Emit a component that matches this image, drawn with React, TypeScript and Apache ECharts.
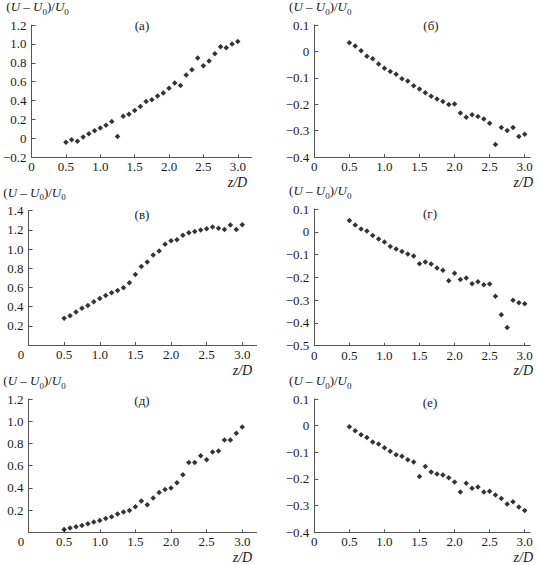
import React, { useEffect, useRef } from "react";
import * as echarts from "echarts";

// z/D sample positions (shared by all panels)
const ZD = [0.5, 0.583, 0.667, 0.75, 0.833, 0.917, 1.0, 1.083, 1.167, 1.25, 1.333, 1.417, 1.5, 1.583, 1.667, 1.75, 1.833, 1.917, 2.0, 2.083, 2.167, 2.25, 2.333, 2.417, 2.5, 2.583, 2.667, 2.75, 2.833, 2.917, 3.0];

// (U - U0)/U0 values per panel
const PANEL_A = [-0.04, -0.014, -0.03, 0.014, 0.05, 0.08, 0.11, 0.14, 0.18, 0.02, 0.235, 0.256, 0.295, 0.337, 0.39, 0.41, 0.45, 0.48, 0.53, 0.586, 0.56, 0.67, 0.726, 0.85, 0.77, 0.82, 0.895, 0.97, 0.96, 1.0, 1.025];
const PANEL_B = [0.033, 0.02, 0.002, -0.018, -0.028, -0.048, -0.064, -0.076, -0.087, -0.104, -0.112, -0.13, -0.142, -0.157, -0.17, -0.18, -0.19, -0.201, -0.199, -0.233, -0.249, -0.24, -0.247, -0.256, -0.272, -0.353, -0.288, -0.3, -0.288, -0.322, -0.314];
const PANEL_V = [0.28, 0.304, 0.343, 0.384, 0.412, 0.45, 0.485, 0.516, 0.544, 0.569, 0.597, 0.649, 0.736, 0.819, 0.864, 0.937, 0.979, 1.049, 1.087, 1.097, 1.143, 1.17, 1.184, 1.198, 1.212, 1.23, 1.216, 1.205, 1.25, 1.205, 1.254];
const PANEL_G = [0.05, 0.03, 0.012, 0.003, -0.016, -0.032, -0.045, -0.065, -0.076, -0.086, -0.098, -0.106, -0.14, -0.133, -0.141, -0.159, -0.169, -0.215, -0.182, -0.209, -0.203, -0.228, -0.219, -0.232, -0.229, -0.283, -0.364, -0.42, -0.3, -0.311, -0.316];
const PANEL_D = [0.025, 0.038, 0.05, 0.062, 0.077, 0.092, 0.107, 0.125, 0.14, 0.164, 0.182, 0.197, 0.23, 0.281, 0.248, 0.308, 0.359, 0.386, 0.398, 0.446, 0.518, 0.629, 0.629, 0.689, 0.653, 0.722, 0.731, 0.83, 0.83, 0.891, 0.948];
const PANEL_E = [-0.004, -0.019, -0.034, -0.044, -0.061, -0.069, -0.083, -0.096, -0.109, -0.115, -0.128, -0.136, -0.191, -0.153, -0.174, -0.181, -0.185, -0.195, -0.211, -0.249, -0.216, -0.235, -0.23, -0.249, -0.246, -0.26, -0.273, -0.294, -0.285, -0.305, -0.318];

const PANEL_LABELS = ["(а)", "(б)", "(в)", "(г)", "(д)", "(е)"];
const X_TICKS = [0, 0.5, 1.0, 1.5, 2.0, 2.5, 3.0];
const Y_RANGES = [
  [-0.2, 1.2, 0.2],
  [-0.4, 0.1, 0.1],
  [0, 1.4, 0.2],
  [-0.5, 0.1, 0.1],
  [0, 1.2, 0.2],
  [-0.4, 0.1, 0.1],
];
const SERIES = [PANEL_A, PANEL_B, PANEL_V, PANEL_G, PANEL_D, PANEL_E];

// layout (px)
const GRIDS = [
  { left: 28.5, top: 24.3, width: 223, height: 133, xMax: 3.2 },
  { left: 314.3, top: 23.3, width: 216, height: 133.7, xMax: 3.08 },
  { left: 28.5, top: 210.7, width: 228, height: 134.3, xMax: 3.2 },
  { left: 314.3, top: 209, width: 216, height: 136.7, xMax: 3.08 },
  { left: 28.5, top: 399, width: 228, height: 133.3, xMax: 3.2 },
  { left: 314.3, top: 399, width: 216, height: 133.3, xMax: 3.08 },
];
const LABEL_POS = [
  [142, 25],
  [431, 25],
  [142, 214],
  [430, 213],
  [142, 400],
  [430, 402],
];

const SERIF = "Liberation Serif, serif";
const TEXT = "#1a1a1a";
const AXIS = "#555";

const fmtY = (v: number, hideZero: boolean) => {
  const r = Math.round(v * 10) / 10;
  if (Math.abs(r) < 1e-9) return hideZero ? "" : "0";
  const s = Math.abs(r).toFixed(1);
  return r < 0 ? "\u2212" + s : s;
};

const NAME = "{p|(}{i|U}{p| \u2013 }{i|U}{s|0}{p|)/}{i|U}{s|0}";
const nameRich = {
  p: { fontFamily: SERIF, fontSize: 13, color: TEXT, lineHeight: 14, verticalAlign: "bottom", padding: [0, 0, 3, 0] },
  i: { fontFamily: SERIF, fontSize: 13, fontStyle: "italic", color: TEXT, lineHeight: 14, verticalAlign: "bottom", padding: [0, 0, 3, 0] },
  s: { fontFamily: SERIF, fontSize: 9, color: TEXT, lineHeight: 10, verticalAlign: "bottom" },
};

export default function App() {
  const ref = useRef<HTMLDivElement>(null);
  useEffect(() => {
    document.body.style.margin = "0";
    if (!ref.current) return;
    const chart = echarts.init(ref.current, null, { renderer: "svg" });
    const grid = GRIDS.map((g) => ({ left: g.left, top: g.top, width: g.width, height: g.height, containLabel: false }));
    const xAxis = GRIDS.map((g, i) => {
      const shiftZero = Y_RANGES[i][0] === 0;
      return {
        type: "value",
        gridIndex: i,
        min: 0,
        max: g.xMax,
        interval: 0.5,
        splitLine: { show: false },
        axisLine: { show: true, onZero: false, lineStyle: { color: AXIS, width: 1 } },
        axisTick: { show: true, inside: true, length: 3, customValues: X_TICKS, lineStyle: { color: AXIS } },
        axisLabel: {
          customValues: X_TICKS,
          margin: 3,
          fontFamily: SERIF,
          fontSize: 13,
          color: TEXT,
          formatter: (v: number) => (v === 0 ? (shiftZero ? "{z|0}" : "0") : v.toFixed(1)),
          rich: { z: { fontFamily: SERIF, fontSize: 13, color: TEXT, padding: [0, 15, 0, 0] } },
        },
        name: "z/D",
        nameLocation: "end",
        nameGap: 0,
        nameTextStyle: {
          fontFamily: SERIF,
          fontSize: 14,
          fontStyle: "italic",
          color: TEXT,
          align: "center",
          verticalAlign: "top",
          padding: [18, i % 2 === 0 ? 28 : 14, 0, 0],
        },
      };
    });
    const yAxis = Y_RANGES.map((r, i) => ({
      type: "value",
      gridIndex: i,
      min: r[0],
      max: r[1],
      interval: r[2],
      splitLine: { show: false },
      axisLine: { show: true, onZero: false, lineStyle: { color: AXIS, width: 1 } },
      axisTick: { show: true, inside: true, length: 4, lineStyle: { color: AXIS } },
      axisLabel: {
        margin: 5,
        fontFamily: SERIF,
        fontSize: 13,
        color: TEXT,
        formatter: (v: number) => fmtY(v, r[0] === 0),
      },
      name: NAME,
      nameLocation: "end",
      nameGap: 9,
      nameTextStyle: { align: "center", verticalAlign: "bottom", padding: [0, 0, 0, 12], rich: nameRich },
    }));
    const series = SERIES.map((vals, i) => ({
      type: "scatter",
      xAxisIndex: i,
      yAxisIndex: i,
      symbol: "diamond",
      symbolSize: 5.5,
      itemStyle: { color: "#000" },
      data: ZD.map((z, k) => [z, vals[k]]),
    }));
    const graphic = PANEL_LABELS.map((t, i) => ({
      type: "text",
      x: LABEL_POS[i][0],
      y: LABEL_POS[i][1],
      style: { text: t, fontFamily: SERIF, fontSize: 13, fill: TEXT, align: "center", verticalAlign: "middle" },
    }));
    chart.setOption({ animation: false, grid, xAxis, yAxis, series, graphic });
    return () => chart.dispose();
  }, []);
  return <div ref={ref} style={{ width: 538, height: 565 }} />;
}
